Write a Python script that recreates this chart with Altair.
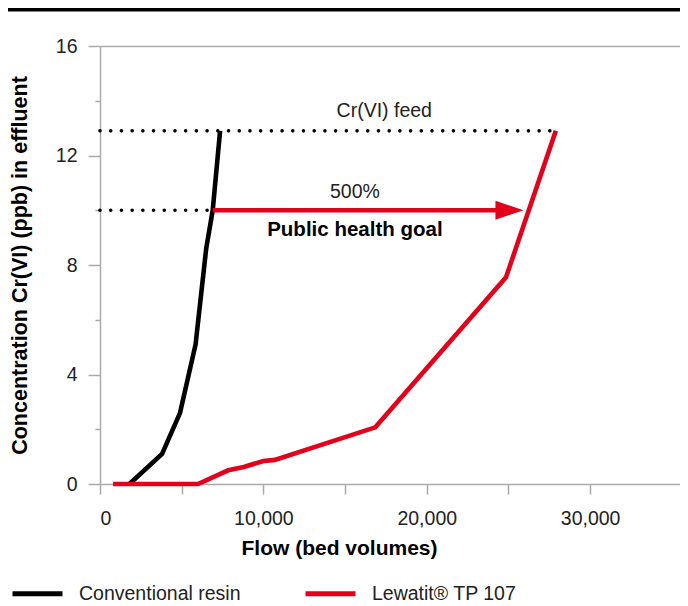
import altair as alt
import pandas as pd

# ---- data ----
series_names = ["Conventional resin", "Lewatit® TP 107"]
conv_x = [1800, 3800, 4900, 5850, 6500, 6900, 7350]
conv_y = [0.0, 1.1, 2.6, 5.1, 8.6, 10.0, 12.9]
lew_x = [800, 6000, 7850, 8800, 10000, 10700, 16850, 24850, 27900]
lew_y = [0.0, 0.0, 0.5, 0.62, 0.84, 0.88, 2.07, 7.55, 12.9]

guide_y = [12.9, 10.0]            # Cr(VI) feed, public health goal
guide_x_end = [27900, 6900]
arrow_x = [6900, 25060]           # shaft start, arrowhead centre
arrow_y = 10.0

ann_text = ["Cr(VI) feed", "500%", "Public health goal"]
ann_x = [17400, 15600, 15600]
ann_y = [13.64, 10.67, 9.28]
ann_weight = ["normal", "normal", "bold"]

x_ticks = [0, 5000, 10000, 15000, 20000, 25000, 30000]
y_ticks = [0, 2, 4, 6, 8, 10, 12, 14, 16]

RED = "#e3001b"
GREY = "#aaaaaa"
FONT = "Liberation Sans"

rows = []
for i, (x, y) in enumerate(zip(conv_x, conv_y)):
    rows.append({"series": series_names[0], "x": x, "y": y, "i": i})
for i, (x, y) in enumerate(zip(lew_x, lew_y)):
    rows.append({"series": series_names[1], "x": x, "y": y, "i": i})
lines_df = pd.DataFrame(rows)

guides_df = pd.DataFrame({"x0": [0, 0], "x1": guide_x_end, "y": guide_y})
shaft_df = pd.DataFrame({"x0": [arrow_x[0]], "x1": [arrow_x[1]], "y": [arrow_y]})
head_df = pd.DataFrame({"x": [arrow_x[1]], "y": [arrow_y]})
ann_df = pd.DataFrame({"t": ann_text, "x": ann_x, "y": ann_y, "w": ann_weight})
topline_df = pd.DataFrame({"k": [0]})

xscale = alt.Scale(domain=[0, 35500], nice=False, zero=False)
yscale = alt.Scale(domain=[0, 16], nice=False)

xaxis = alt.Axis(
    values=x_ticks,
    labelExpr="datum.value % 10000 === 0 ? datum.label : ''",
    format=",d",
    tickSize=10,
    labelPadding=15,
    labelFontSize=19.5,
    labelColor="#222222",
    grid=False,
    title="Flow (bed volumes)",
    titleFontSize=21,
    titleFontWeight="bold",
    titleColor="#000000",
    titleX=239,
    titleY=64,
    titleAlign="center",
    titleBaseline="middle",
)
yaxis = alt.Axis(
    values=y_ticks,
    labelExpr="datum.value % 4 === 0 ? datum.label : ''",
    tickSize={"condition": {"test": "datum.value % 4 === 0", "value": 12}, "value": 5},
    labelPadding=11,
    labelFontSize=19.5,
    labelColor="#222222",
    grid=True,
    gridColor=GREY,
    gridWidth=1.5,
    gridOpacity={"condition": {"test": "datum.value === 16", "value": 1}, "value": 0},
    title="Concentration Cr(VI) (ppb) in effluent",
    titleFontSize=21.5,
    titleFontWeight="bold",
    titleColor="#000000",
    titleX=-80,
    titleY=219,
    titleAlign="center",
    titleBaseline="middle",
    titleAngle=270,
)

lines = alt.Chart(lines_df).mark_line(strokeWidth=4.6, strokeJoin="miter").encode(
    x=alt.X("x:Q", scale=xscale, axis=xaxis),
    y=alt.Y("y:Q", scale=yscale, axis=yaxis),
    color=alt.Color(
        "series:N",
        scale=alt.Scale(domain=series_names, range=["#000000", RED]),
        legend=alt.Legend(
            title=None,
            orient="none",
            legendX=-90,
            legendY=520,
            direction="horizontal",
            symbolType="stroke",
            symbolSize=2500,
            symbolStrokeWidth=5,
            labelFontSize=19.5,
            labelColor="#222222",
            labelOffset=14,
            labelLimit=400,
            columnPadding=54,
        ),
    ),
    order="i:Q",
)

guides = alt.Chart(guides_df).mark_rule(
    color="#000000", strokeWidth=3.6, strokeDash=[0.01, 10.7], strokeCap="round"
).encode(x="x0:Q", x2="x1:Q", y="y:Q")

shaft = alt.Chart(shaft_df).mark_rule(color=RED, strokeWidth=4.6).encode(
    x="x0:Q", x2="x1:Q", y="y:Q"
)

head = alt.Chart(head_df).mark_point(
    shape="M-1,-0.68L1,0L-1,0.68Z", size=784, filled=True, color=RED, opacity=1
).encode(x="x:Q", y="y:Q")

ann_normal = alt.Chart(ann_df[ann_df.w == "normal"]).mark_text(
    font=FONT, fontSize=19.5, color="#222222", align="center", baseline="middle"
).encode(x="x:Q", y="y:Q", text="t:N")
ann_bold = alt.Chart(ann_df[ann_df.w == "bold"]).mark_text(
    font=FONT, fontSize=20.5, fontWeight="bold", color="#000000", align="center", baseline="middle"
).encode(x="x:Q", y="y:Q", text="t:N")

topline = alt.Chart(topline_df).mark_rule(color="#000000", strokeWidth=3.5).encode(
    x=alt.value(-92), x2=alt.value(588), y=alt.value(-36.2)
)

chart = alt.layer(guides, lines, shaft, head, ann_normal, ann_bold, topline).properties(
    width=580,
    height=438,
    autosize=alt.AutoSizeParams(type="none"),
    padding={"left": 92, "top": 38, "right": 0, "bottom": 122},
).configure(font=FONT).configure_view(stroke=None).configure_axis(
    domainColor=GREY, domainWidth=1.5, tickColor=GREY, tickWidth=1.5,
    labelFont=FONT, titleFont=FONT,
).configure_legend(labelFont=FONT)

chart.save("out.html", embed_options={"renderer": "svg", "actions": False})
